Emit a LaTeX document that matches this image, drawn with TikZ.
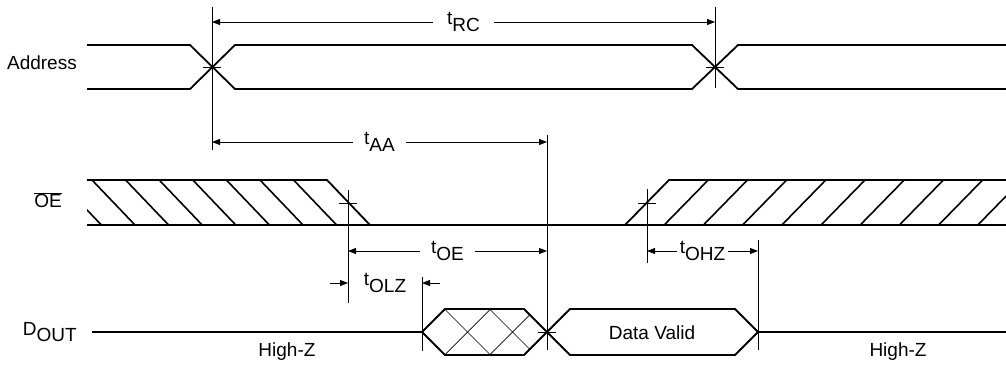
\documentclass[tikz,border=0pt]{standalone}
\usepackage{fontspec}
\setmainfont{Liberation Sans}
\usetikzlibrary{arrows.meta}
\newcommand{\tsub}[2]{#1\raisebox{-0.36em}{#2}}

\begin{document}
\begin{tikzpicture}[x=1pt,y=-1pt,
  bus/.style={line width=1.8pt},
  hatch/.style={line width=1.6pt},
  xhatch/.style={line width=0.7pt},
  refl/.style={line width=0.8pt},
  tip/.style={-{Triangle[length=8pt,width=6pt]}},
  dim/.style={refl,{Triangle[length=8pt,width=6pt]}-{Triangle[length=8pt,width=6pt]}},
  txt/.style={font=\fontsize{19}{21}\selectfont,inner sep=0pt},
  lbl/.style={txt,fill=white,inner ysep=1pt,inner xsep=#1},
  lbl/.default=4pt,
  sig/.style={txt,anchor=east}]
\useasboundingbox (0,0) rectangle (1006,364);
\node[sig] (addr) at (77,63) {Address};
\node[sig] (oe) at (62,200) {$\overline{\hbox{OE}}$};
\node[sig] (dout) at (77,332) {D\raisebox{-0.28em}{OUT}};
\draw[bus] (87,45) -- (190,45) -- (235,89) -- (692,89) -- (738,45) -- (1006,45);
\draw[bus] (87,89) -- (190,89) -- (235,45) -- (692,45) -- (738,89) -- (1006,89);
\draw[bus] (87,180) -- (327,180) -- (370,225);
\draw[bus] (87,225) -- (1006,225);
\draw[bus] (625,225) -- (669,180) -- (1006,180);
\begin{scope}
\clip (87,170) rectangle (370,226);
\foreach \k in {-1,...,6} {
   \draw[hatch] ({92+33.6*\k},180) -- ++(43,45);
}
\end{scope}
\begin{scope}
\clip (625,170) rectangle (1006,226);
\foreach \k in {1,...,9} {
   \draw[hatch] ({625+39.2*\k},225) -- ++(44,-45);
}
\end{scope}
\draw[bus] (92,332) -- (422,332);
\draw[bus] (422,332) -- (445,309) -- (524,309) -- (570,355) -- (735,355) -- (758,332) -- (1006,332);
\draw[bus] (422,332) -- (445,355) -- (524,355) -- (570,309) -- (735,309) -- (758,332);
\begin{scope}
\clip (422,332) -- (445,309) -- (524,309) -- (547,332) -- (524,355) -- (445,355) -- cycle;
\foreach \c in {467.5,512.5} {
   \draw[xhatch] ({\c-30},302) -- ({\c+30},362);
   \draw[xhatch] ({\c-30},362) -- ({\c+30},302);
}
\end{scope}
\node[txt] (dv) at (652,333) {Data Valid};
\node[txt] (hz1) at (287,352) {High-Z};
\node[txt] (hz2) at (898,352) {High-Z};
\foreach \x/\y in {212/67,715/67,348/203,647/203,547/332} {
   \draw[refl] (\x-9,\y) -- (\x+9,\y);
}
\foreach \n/\x/\a/\b in {v1/212/7/150,v2/715/7/88,v3/547/135/350,v4/348/190/303,v5/422/277/351,v6/647/189/263,v7/758/240/350} {
   \coordinate (\n t) at (\x,\a);
   \coordinate (\n b) at (\x,\b);
   \draw[refl] (\n t) -- (\n b);
}
\draw[dim] (212,22) -- node[lbl=14pt] (tRC) {\tsub{t}{RC}} (715,22);
\draw[dim] (212,142) -- node[lbl=11pt] (tAA) {\tsub{t}{AA}} (547,142);
\draw[dim] (348,251) -- node[lbl=11pt] (tOE) {\tsub{t}{OE}} (547,251);
\draw[dim] (647,251) -- node[lbl=3pt] (tOHZ) {\tsub{t}{OHZ}} (758,251);
\node[txt] (tOLZ) at (385,283) {\tsub{t}{OLZ}};
\coordinate (olzA) at (330,283);
\coordinate (olzB) at (440,283);
\draw[refl,tip] (olzA) -- (v4t |- olzA);
\draw[refl,tip] (olzB) -- (v5t |- olzB);
\end{tikzpicture}
\end{document}
